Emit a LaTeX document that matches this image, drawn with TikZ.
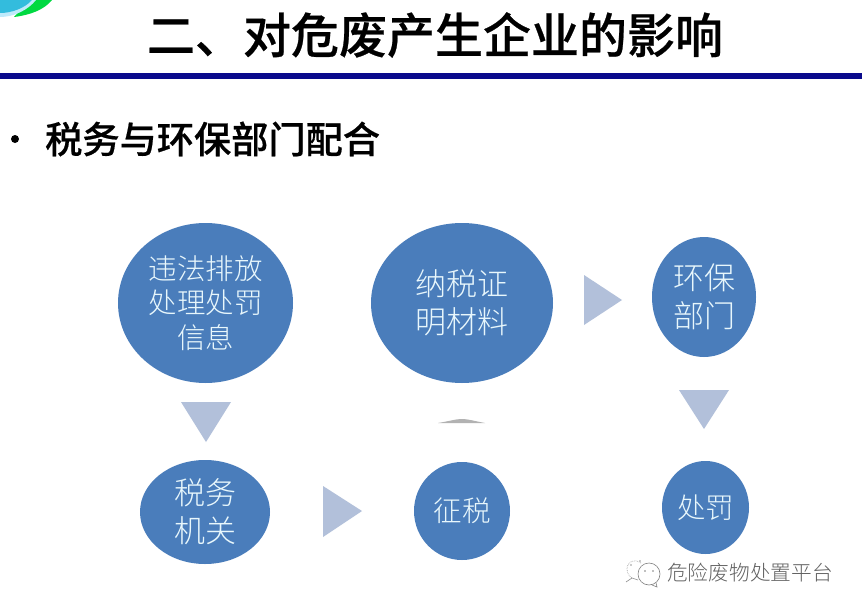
\documentclass[tikz,border=0pt]{standalone}
\usepackage{fontspec}
\setmainfont[BoldFont=Noto Sans CJK SC Medium,BoldFeatures={FakeBold=0.5}]{Noto Sans CJK SC Light}
\usetikzlibrary{shapes.geometric}
\definecolor{blob}{HTML}{4A7DBB}
\definecolor{tri}{HTML}{B2C0DA}
\definecolor{navy}{HTML}{0A0A8C}
\definecolor{labtext}{HTML}{E8F7FC}
\tikzset{
  blobnode/.style={ellipse,fill=blob,inner sep=0pt,text=labtext,align=center},
  tritip/.style={fill=tri,draw=none},
  lab31/.style={font=\fontsize{31}{38}\selectfont},
  lab28/.style={font=\fontsize{28.5}{34.5}\selectfont},
}
\begin{document}
\begin{tikzpicture}[x=1pt,y=-1pt]
\useasboundingbox (0,0) rectangle (862,610);
\fill[white] (0,0) rectangle (862,610);
% logo corner
\fill[green!70!cyan!85!black] (30,0) -- (52,0) .. controls (44,10) and (30,15) .. (14,17) -- cycle;
\fill[cyan!25] (0,0) -- (36,0) .. controls (28,10) and (14,17) .. (0,17) -- cycle;
\fill[cyan!85!green!80] (0,0) -- (32,0) .. controls (25,8) and (12,13) .. (0,13) -- cycle;
% title
\node[anchor=center,font=\fontsize{48}{52}\selectfont\bfseries] (title) at (435,35) {二、对危废产生企业的影响};
\fill[navy] (0,73) rectangle (862,79);
\fill (15,139) circle (4);
\node[anchor=west,inner sep=0pt,font=\fontsize{37.2}{42}\selectfont\bfseries] (sub) at (45,139) {税务与环保部门配合};
% blobs
\node[blobnode,minimum width=175pt,minimum height=160pt,lab28] (a) at (205.5,303) {违法排放\\处理处罚\\信息};
\node[blobnode,minimum width=182pt,minimum height=160pt,lab31] (b) at (462,303) {纳税证\\明材料};
\node[blobnode,minimum width=104pt,minimum height=120pt,lab31] (c) at (704,297) {环保\\部门};
\node[blobnode,minimum width=130pt,minimum height=104pt,lab31] (d) at (205,512) {税务\\机关};
\node[blobnode,minimum width=96pt,minimum height=98pt,lab28] (e) at (462,511) {征税};
\node[blobnode,minimum width=87pt,minimum height=93pt,lab28] (f) at (705.5,507.5) {处罚};
% triangles
\fill[tritip] (181,402) -- (231,402) -- (206,442) -- cycle;
\fill[tritip] (584,275) -- (584,325) -- (622,300) -- cycle;
\fill[tritip] (679,390) -- (729,390) -- (704,429) -- cycle;
\fill[tritip] (323,486) -- (323,537) -- (362,511) -- cycle;
\fill[black!30] (438,423) .. controls (450,421) and (456,419) .. (462,419) .. controls (468,419) and (474,421) .. (485,423) -- cycle;
% watermark
\node[anchor=west,inner sep=0pt,text=black!62,font=\fontsize{20.7}{24}\selectfont] (wm) at (667,573) {危险废物处置平台};
\draw[black!50,line width=.6pt] (649,574) circle (11);
\draw[black!50,line width=.6pt] (652,585) -- (657,587) -- (656,583);
\draw[black!35,line width=.7pt,densely dotted] (641,563) .. controls (634,558) and (627,562) .. (627,569) .. controls (627,573) and (629,576) .. (632,578);
\draw[black!45,line width=.6pt] (626,582) -- (632,578) -- (638,580);
\fill[black!50] (645,571) circle (.9) (653,571) circle (.9);
\fill[black!40] (631,565) circle (.9) (640,561) circle (.9);
\end{tikzpicture}
\end{document}
